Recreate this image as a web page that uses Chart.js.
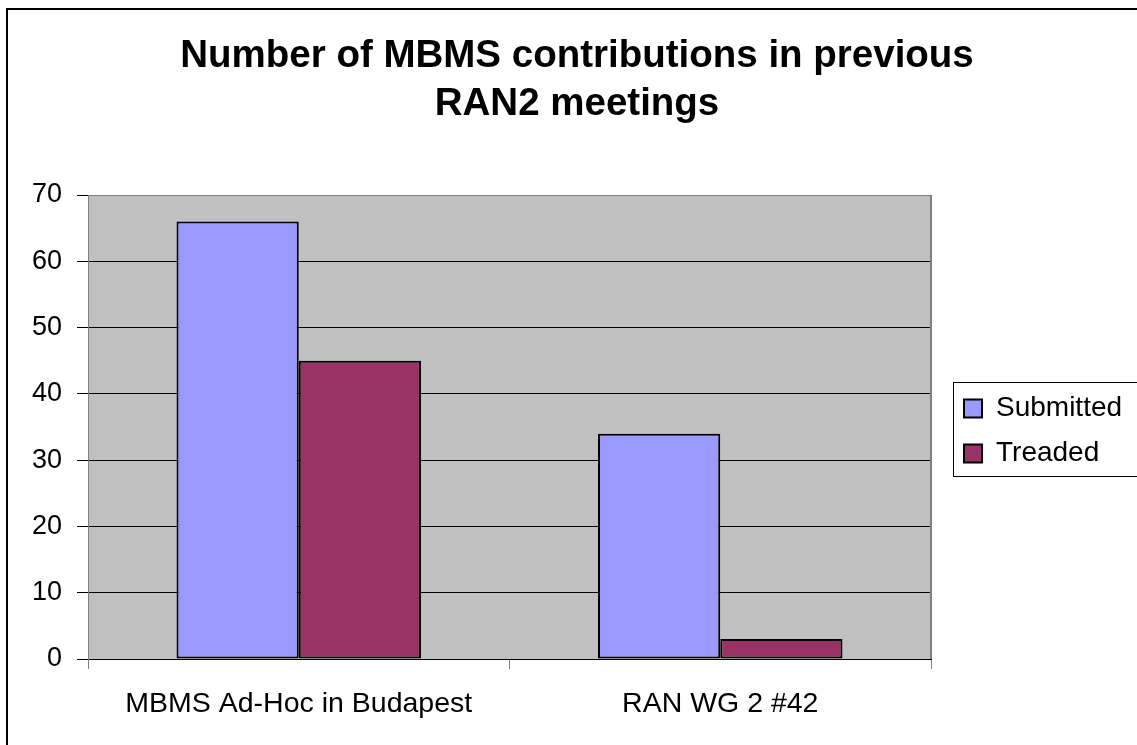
<!DOCTYPE html>
<html>
<head>
<meta charset="utf-8">
<script src="https://cdn.jsdelivr.net/npm/chart.js@4/dist/chart.umd.min.js"></script>
<style>
  html, body { margin: 0; padding: 0; background: #fff; overflow: hidden; }
  #wrap { position: relative; width: 1137px; height: 745px; }
  #frame { position: absolute; left: 6px; top: 8px; width: 1200px; height: 800px; border: 2px solid #000; box-sizing: border-box; }
  canvas { position: absolute; left: 0; top: 0; }
</style>
</head>
<body>
<div id="wrap">
  <div id="frame"></div>
  <canvas id="myChart" width="1137" height="745"></canvas>
</div>
<script>
// data
var categories = ["MBMS Ad-Hoc in Budapest", "RAN WG 2 #42"];
var submitted = [66, 34];
var treaded = [45, 3];
var titleLines = ["Number of MBMS contributions in previous", "RAN2 meetings"];
var yMin = 0;
var yMax = 70;
var yStep = 10;

var FONT = "'Liberation Sans', Arial, sans-serif";

// grey plot area + legend frame
var excelLook = {
  id: "excelLook",
  beforeDraw: function (chart) {
    var a = chart.chartArea;
    var ctx = chart.ctx;
    ctx.save();
    ctx.fillStyle = "#C0C0C0";
    ctx.fillRect(a.left, a.top, a.right - a.left, a.bottom - a.top);
    ctx.restore();
  },
  beforeDatasetsDraw: function (chart) {
    var a = chart.chartArea;
    var ctx = chart.ctx;
    ctx.save();
    ctx.strokeStyle = "#808080";
    ctx.lineWidth = 2;
    ctx.beginPath();
    ctx.moveTo(a.right, a.top);
    ctx.lineTo(a.right, a.bottom);
    ctx.stroke();
    ctx.restore();
  },
  afterDraw: function (chart) {
    var lg = chart.legend;
    var hb = lg.legendHitBoxes;
    if (!hb || !hb.length) return;
    var ctx = chart.ctx;
    var top = hb[0].top - 13;
    var bottom = hb[hb.length - 1].top + hb[hb.length - 1].height + 8;
    ctx.save();
    ctx.strokeStyle = "#000";
    ctx.lineWidth = 1;
    ctx.strokeRect(lg.left + 6.5, Math.round(top) + 0.5, 400, Math.round(bottom - top));
    ctx.restore();
  },
};

var ctx = document.getElementById("myChart").getContext("2d");
var myChart = new Chart(ctx, {
  type: "bar",
  data: {
    labels: categories,
    datasets: [
      {
        label: "Submitted",
        data: submitted,
        backgroundColor: "#9999FF",
        borderColor: "#000000",
        borderWidth: 2,
        borderSkipped: false,
      },
      {
        label: "Treaded",
        data: treaded,
        backgroundColor: "#993366",
        borderColor: "#000000",
        borderWidth: 2,
        borderSkipped: false,
      },
    ],
  },
  options: {
    responsive: false,
    animation: false,
    devicePixelRatio: 1,
    layout: { padding: { left: 22, right: 5, top: 0, bottom: 0 } },
    datasets: {
      bar: { categoryPercentage: 0.58, barPercentage: 1.0 },
    },
    plugins: {
      tooltip: { enabled: false },
      title: {
        display: true,
        text: titleLines,
        color: "#000",
        font: { family: FONT, size: 38.5, weight: "bold", lineHeight: "48px" },
        padding: { top: 32, bottom: 67 },
      },
      legend: {
        display: true,
        position: "right",
        fullSize: false,
        title: { display: true, text: "", font: { size: 0 }, padding: { top: 4, bottom: 4 } },
        labels: {
          color: "#000",
          font: { family: FONT, size: 28 },
          boxWidth: 18,
          boxHeight: 18,
          padding: 17,
        },
      },
    },
    scales: {
      x: {
        grid: {
          display: true,
          drawOnChartArea: false,
          offset: true,
          color: "#808080",
          tickLength: 10,
        },
        border: { display: true, color: "#000", width: 1 },
        ticks: {
          color: "#000",
          font: { family: FONT, size: 28.5 },
          padding: 18,
          maxRotation: 0,
        },
        afterFit: function (scale) {
          scale.height = 86;
        },
      },
      y: {
        min: yMin,
        max: yMax,
        grid: {
          color: function (c) {
            return c.tick && c.tick.value === yMax ? "#808080" : "#000";
          },
          tickColor: "#000",
          tickLength: 11,
          lineWidth: 1,
        },
        border: { display: true, color: "#808080", width: 1 },
        ticks: {
          stepSize: yStep,
          color: "#000",
          font: { family: FONT, size: 27 },
          padding: 15,
        },
        afterFit: function (scale) {
          scale.width = 66;
        },
      },
      y2: {
        type: "linear",
        position: "right",
        display: true,
        grid: { display: false },
        border: { display: false },
        ticks: { display: false },
        afterFit: function (scale) {
          scale.width = 16;
        },
      },
    },
  },
  plugins: [excelLook],
});
</script>
</body>
</html>
